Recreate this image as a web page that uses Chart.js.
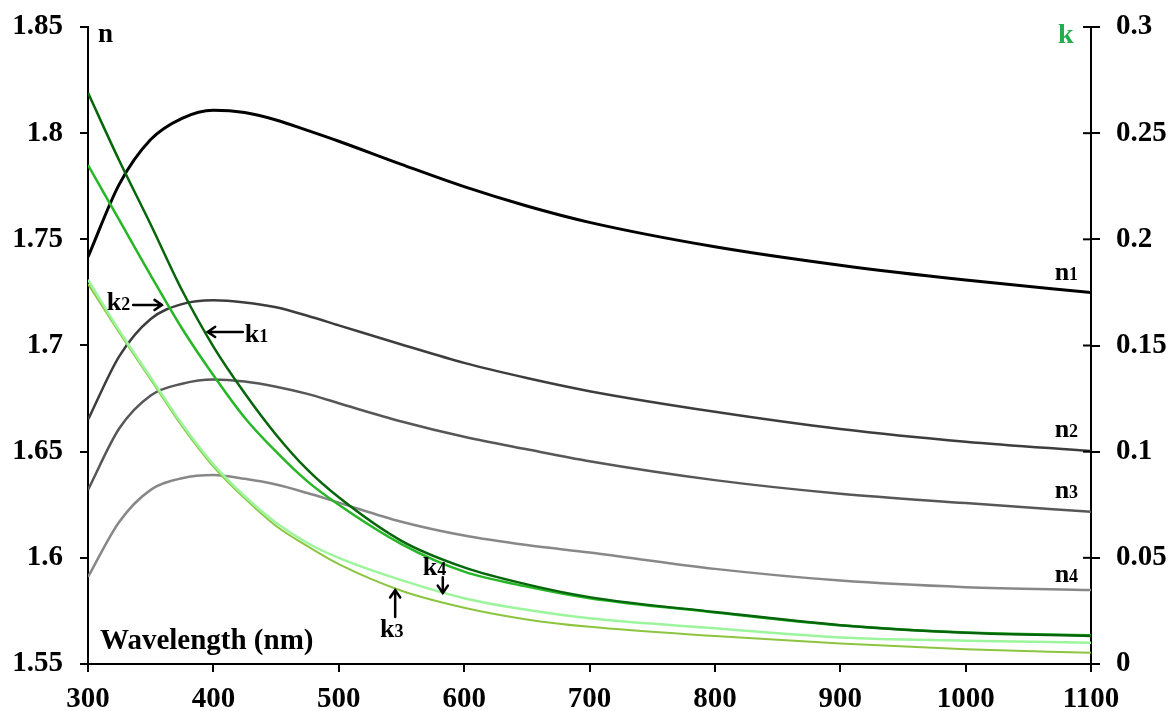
<!DOCTYPE html>
<html>
<head>
<meta charset="utf-8">
<script src="https://cdn.jsdelivr.net/npm/chart.js@4.4.1/dist/chart.umd.min.js"></script>
<style>
  body { margin: 0; background: #fff; }
  #wrap { width: 1168px; height: 711px; }
</style>
</head>
<body>
<div id="wrap"><canvas id="myChart" width="1168" height="711"></canvas></div>
<script>
// wavelength in nm
const wavelength = [300, 325, 350, 375, 400, 425, 450, 475, 500, 550, 600, 650, 700, 800, 900, 1000, 1100];

// refractive index n (left axis)
const n1 = [1.7417, 1.776, 1.797, 1.807, 1.8108, 1.8097, 1.8062, 1.8013, 1.7962, 1.7853, 1.7748, 1.7657, 1.758, 1.7465, 1.7378, 1.7308, 1.7249];
const n2 = [1.665, 1.695, 1.7125, 1.7195, 1.7213, 1.7203, 1.718, 1.714, 1.7095, 1.7005, 1.6918, 1.6847, 1.6785, 1.6688, 1.6607, 1.6547, 1.6503];
const n3 = [1.632, 1.661, 1.6765, 1.682, 1.684, 1.683, 1.6806, 1.6772, 1.6728, 1.6642, 1.657, 1.6511, 1.6455, 1.6366, 1.6302, 1.6258, 1.6217];
const n4 = [1.591, 1.617, 1.632, 1.6375, 1.639, 1.6372, 1.6345, 1.6305, 1.626, 1.617, 1.6105, 1.606, 1.6025, 1.5948, 1.5893, 1.5862, 1.5848];

// extinction coefficient k (right axis)
const k1 = [0.269, 0.237, 0.207, 0.176, 0.1495, 0.1275, 0.108, 0.0915, 0.0785, 0.058, 0.0455, 0.0375, 0.0315, 0.0245, 0.0183, 0.0147, 0.0132];
const k2 = [0.235, 0.209, 0.183, 0.158, 0.136, 0.116, 0.100, 0.086, 0.075, 0.0565, 0.0435, 0.0365, 0.031, 0.0243, 0.0182, 0.0148, 0.0135];
const k3 = [0.179, 0.156, 0.134, 0.112, 0.093, 0.078, 0.065, 0.0555, 0.047, 0.0345, 0.0265, 0.021, 0.0175, 0.0132, 0.0097, 0.007, 0.0053];
const k4 = [0.181, 0.157, 0.135, 0.113, 0.094, 0.079, 0.0665, 0.057, 0.050, 0.0395, 0.031, 0.0255, 0.0215, 0.0168, 0.0125, 0.011, 0.010];

const FONT = '"Liberation Serif", "Times New Roman", serif';

function pts(arr) {
    return wavelength.map((w, i) => ({x: w, y: arr[i]}));
}

function line(label, arr, color, width, axis) {
    return {
        label: label,
        data: pts(arr),
        borderColor: color,
        borderWidth: width,
        pointRadius: 0,
        fill: false,
        cubicInterpolationMode: 'monotone',
        yAxisID: axis
    };
}

function drawLabel(c, main, sub, px, py, color, size) {
    c.fillStyle = color || '#000';
    c.textAlign = 'left';
    c.textBaseline = 'alphabetic';
    c.font = 'bold ' + (size || 26) + 'px ' + FONT;
    c.fillText(main, px, py);
    if (sub) {
        const w = c.measureText(main).width;
        c.font = 'bold 18px ' + FONT;
        c.fillText(sub, px + w, py);
    }
}

function drawArrow(c, x1, y1, x2, y2) {
    const a = Math.atan2(y2 - y1, x2 - x1);
    const h = 9;
    c.strokeStyle = '#000';
    c.lineWidth = 2.5;
    c.lineCap = 'round';
    c.beginPath();
    c.moveTo(x1, y1);
    c.lineTo(x2, y2);
    c.moveTo(x2 - h * Math.cos(a - 0.6), y2 - h * Math.sin(a - 0.6));
    c.lineTo(x2, y2);
    c.lineTo(x2 - h * Math.cos(a + 0.6), y2 - h * Math.sin(a + 0.6));
    c.stroke();
}

// labels, arrows and inner ticks of the right axis
const annotations = {
    id: 'annotations',
    afterDraw(chart) {
        const c = chart.ctx;
        const xs = chart.scales.x, ys = chart.scales.y, ks = chart.scales.y1;
        const area = chart.chartArea;
        const X = v => xs.getPixelForValue(v);
        const Y = v => ys.getPixelForValue(v);
        c.save();

        // inner half of the right axis ticks
        c.strokeStyle = '#000';
        c.lineWidth = 2;
        ks.ticks.forEach((t, i) => {
            const py = ks.getPixelForTick(i);
            c.beginPath();
            c.moveTo(area.right - 8, py);
            c.lineTo(area.right, py);
            c.stroke();
        });

        drawLabel(c, 'n', '', area.left + 10, area.top + 15, '#000', 27);
        drawLabel(c, 'k', '', area.right - 33, area.top + 16, '#22ad4e', 28);
        drawLabel(c, 'Wavelength (nm)', '', area.left + 12, area.bottom - 15, '#000', 29);

        drawLabel(c, 'n', '1', X(1071), Y(1.7308));
        drawLabel(c, 'n', '2', X(1071), Y(1.6569));
        drawLabel(c, 'n', '3', X(1071), Y(1.6282));
        drawLabel(c, 'n', '4', X(1071), Y(1.5886));

        drawLabel(c, 'k', '2', X(315), Y(1.7167));
        drawArrow(c, X(336), Y(1.7191), X(359), Y(1.7191));

        drawLabel(c, 'k', '1', X(425), Y(1.7017));
        drawArrow(c, X(423.5), Y(1.7064), X(395.5), Y(1.7064));

        drawLabel(c, 'k', '4', X(567), Y(1.5919));
        drawArrow(c, X(583), Y(1.5908), X(583), Y(1.5834));

        drawLabel(c, 'k', '3', X(533), Y(1.5627));
        drawArrow(c, X(545), Y(1.5721), X(545), Y(1.5848));

        c.restore();
    }
};

const tickFont = { family: FONT, size: 29, weight: 'bold' };

// fixed plot box: 88..1091 wide, 27..664 high
function fitY(width) {
    return s => { s.width = width; s.paddingTop = 0; s.paddingBottom = 0; };
}

const ctx = document.getElementById('myChart').getContext('2d');
const myChart = new Chart(ctx, {
    type: 'line',
    data: {
        datasets: [
            line('k1', k1, '#07660b', 2.5, 'y1'),
            line('k2', k2, '#26b626', 2.5, 'y1'),
            line('k4', k4, '#9cf59c', 2.5, 'y1'),
            line('k3', k3, '#8cc540', 2, 'y1'),
            line('n1', n1, '#000000', 3, 'y'),
            line('n2', n2, '#3d3d3d', 2.5, 'y'),
            line('n3', n3, '#575757', 2.5, 'y'),
            line('n4', n4, '#888888', 2.5, 'y')
        ]
    },
    options: {
        responsive: false,
        animation: false,
        layout: { padding: { top: 27, left: 0, right: 0, bottom: 0 } },
        plugins: {
            legend: { display: false },
            title: { display: false },
            tooltip: { enabled: false }
        },
        scales: {
            x: {
                type: 'linear',
                min: 300,
                max: 1100,
                afterFit: s => { s.height = 47; s.paddingLeft = 0; s.paddingRight = 0; },
                border: { color: '#000', width: 2 },
                grid: { drawOnChartArea: false, color: '#000', tickLength: 8, lineWidth: 2 },
                ticks: {
                    stepSize: 100,
                    padding: 10,
                    color: '#000',
                    font: tickFont,
                    callback: v => String(v)
                }
            },
            y: {
                position: 'left',
                min: 1.55,
                max: 1.85,
                afterFit: fitY(88),
                border: { color: '#000', width: 2 },
                grid: { drawOnChartArea: false, color: '#000', tickLength: 8, lineWidth: 2 },
                ticks: {
                    stepSize: 0.05,
                    padding: 17,
                    color: '#000',
                    font: tickFont,
                    callback: v => String(Number(v.toFixed(2)))
                }
            },
            y1: {
                position: 'right',
                min: 0,
                max: 0.3,
                afterFit: fitY(77),
                border: { color: '#000', width: 2 },
                grid: { drawOnChartArea: false, color: '#000', tickLength: 9, lineWidth: 2 },
                ticks: {
                    stepSize: 0.05,
                    padding: 16,
                    color: '#000',
                    font: tickFont,
                    callback: v => String(Number(v.toFixed(2)))
                }
            }
        }
    },
    plugins: [annotations]
});
</script>
</body>
</html>
